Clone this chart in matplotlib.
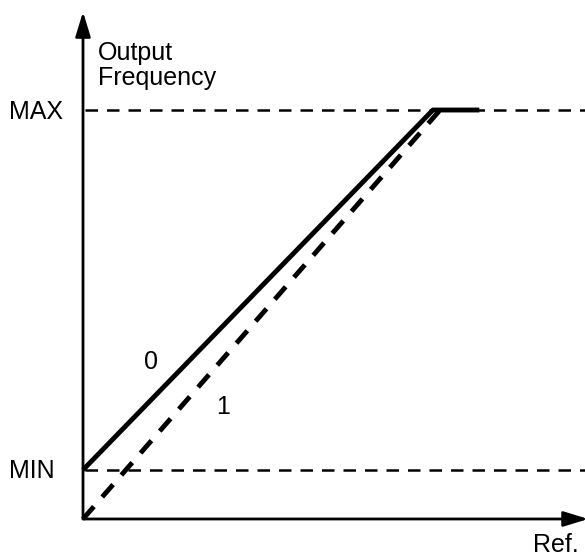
import matplotlib
matplotlib.use("Agg")
import matplotlib.pyplot as plt

plt.rcParams['font.family'] = ['Liberation Sans', 'DejaVu Sans']

# frequency levels (normalised, MAX = 1)
freq_min = 0.12
freq_max = 1.0

# curve 0: starts at MIN, saturates at MAX then stays flat
ref0 = [0.0, 0.98, 1.11]
out0 = [freq_min, freq_max, freq_max]

# curve 1: starts at zero, reaches MAX at ref = 1
ref1 = [0.0, 1.0]
out1 = [0.0, freq_max]

curve_labels = ["0", "1"]
level_labels = ["MAX", "MIN"]

fig = plt.figure(figsize=(5.85, 5.58), dpi=100)
ax = fig.add_axes([0, 0, 1, 1])
ax.set_xlim(-0.2325, 1.406)
ax.set_ylim(-0.0954, 1.269)
ax.axis('off')

# axes with arrow heads
arrow = dict(arrowstyle='-|>,head_length=1.5,head_width=0.46', mutation_scale=10,
             color='black', lw=2, shrinkA=0, shrinkB=0)
ax.annotate('', xy=(0, 1.24), xytext=(0, 0), arrowprops=arrow, annotation_clip=False)
ax.annotate('', xy=(1.415, 0), xytext=(0, 0), arrowprops=arrow, annotation_clip=False)

# MAX / MIN reference lines
for lvl in [freq_max, freq_min]:
    ax.plot([0.006, 1.41], [lvl, lvl], color='black', lw=1.8, dashes=(5, 3.6))

ax.plot(ref0, out0, color='black', lw=3.5, solid_capstyle='butt')
ax.plot(ref1, out1, color='black', lw=3.5, dashes=(3.4, 2.6))

fs = 18
ax.text(-0.207, freq_max - 0.005, level_labels[0], fontsize=fs, va='center', ha='left')
ax.text(-0.207, freq_min - 0.002, level_labels[1], fontsize=fs, va='center', ha='left')
ax.text(0.042, 1.122, "Output", fontsize=fs, va='baseline', ha='left')
ax.text(0.042, 1.061, "Frequency", fontsize=fs, va='baseline', ha='left')
ax.text(1.26, -0.08, "Ref.", fontsize=fs, va='baseline', ha='left')
ax.text(0.19, 0.384, curve_labels[0], fontsize=fs, va='center', ha='center')
ax.text(0.392, 0.274, curve_labels[1], fontsize=fs, va='center', ha='center')

fig.savefig("out.png", dpi=100)
